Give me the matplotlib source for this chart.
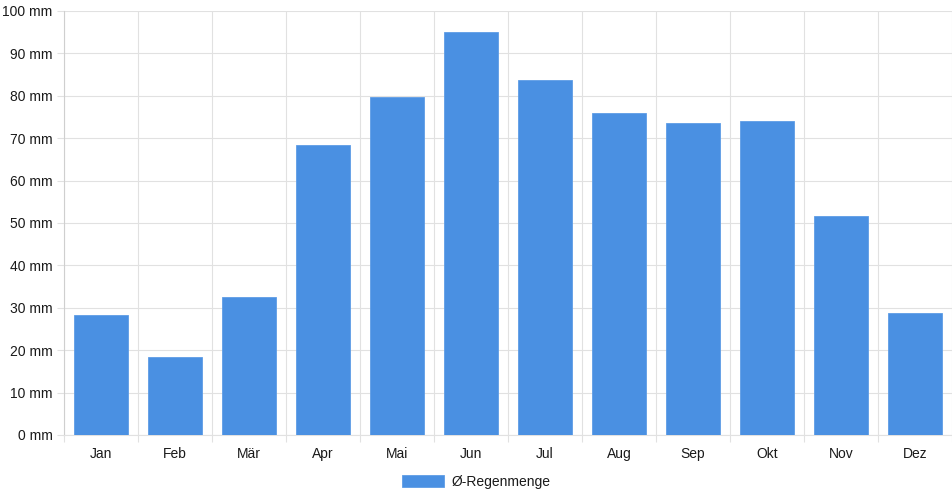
import matplotlib
matplotlib.use("Agg")
import matplotlib.pyplot as plt
import numpy as np

months = ["Jan", "Feb", "Mär", "Apr", "Mai", "Jun", "Jul", "Aug", "Sep", "Okt", "Nov", "Dez"]
rain_mm = [28.2, 18.4, 32.6, 68.4, 79.8, 95.0, 83.8, 75.9, 73.7, 74.0, 51.6, 28.8]
y_ticks = [0, 10, 20, 30, 40, 50, 60, 70, 80, 90, 100]
series_label = "Ø-Regenmenge"

plt.rcParams['font.family'] = ['Liberation Sans', 'DejaVu Sans']

W, H = 952, 500
fig = plt.figure(figsize=(W / 100, H / 100), dpi=100)
ax = fig.add_axes([64 / W, 1 - 435 / H, (W - 64) / W, (435 - 11) / H])

grid_c = "#e1e1e1"
bar_c = "#4a90e2"
txt_c = "#1a1a1a"
fs = 10

x = np.arange(len(months))
bars = ax.bar(x, rain_mm, width=0.72, color=bar_c, edgecolor="#5e9de6", linewidth=0.6,
              label=series_label, zorder=3)

ax.set_xlim(-0.5, len(months) - 0.5)
ax.set_ylim(0, 100)

ax.set_yticks(y_ticks)
ax.set_yticklabels([f"{v} mm" for v in y_ticks])
ax.set_xticks(x)
ax.set_xticklabels(months)
ax.set_xticks(np.arange(-0.5, len(months) + 0.5, 1), minor=True)

ax.tick_params(axis='x', which='major', length=0, pad=8.5, labelsize=fs, labelcolor=txt_c)
ax.tick_params(axis='x', which='minor', length=5.25, color=grid_c, width=0.8)
ax.tick_params(axis='y', which='major', length=5.25, color=grid_c, width=0.8, pad=3,
               labelsize=fs, labelcolor=txt_c)

ax.grid(axis='y', which='major', color=grid_c, linewidth=0.8, zorder=0)
ax.grid(axis='x', which='minor', color=grid_c, linewidth=0.8, zorder=0)
ax.grid(axis='x', which='major', visible=False)

for s in ['top', 'right']:
    ax.spines[s].set_visible(False)
ax.spines['left'].set_color("#cfcfcf")
ax.spines['bottom'].set_color(grid_c)
ax.spines['left'].set_linewidth(0.8)
ax.spines['bottom'].set_linewidth(0.8)

fig.legend(handles=[bars], labels=[series_label], loc='center',
           bbox_to_anchor=(476 / W, 1 - 482 / H), frameon=False, fontsize=fs,
           handlelength=3.0, handleheight=1.0, handletextpad=0.55, labelcolor=txt_c)

fig.savefig("out.png", dpi=100)
